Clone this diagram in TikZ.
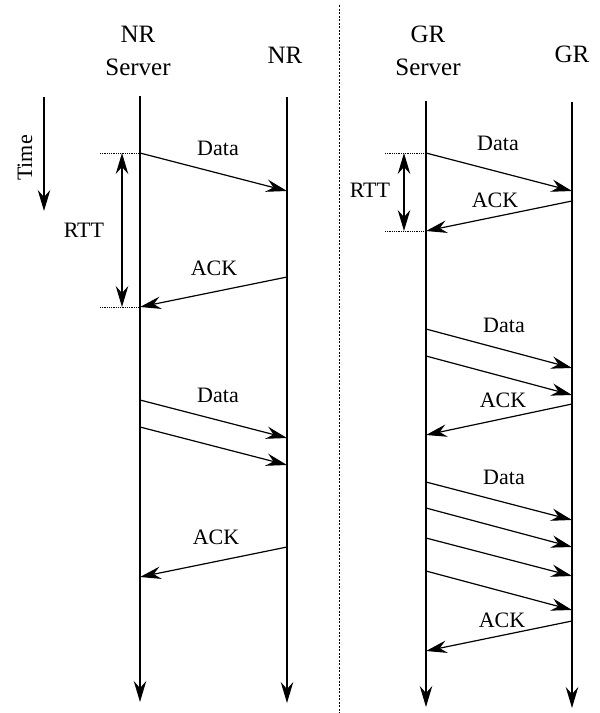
\documentclass[tikz,border=0pt]{standalone}
\usepackage{fontspec}
\setmainfont{Liberation Serif}
\usetikzlibrary{arrows.meta}

\tikzset{
  >={Stealth[length=21pt,width=12.5pt,inset=7pt]},
  life/.style={line width=1.4pt, ->},
  msg/.style={line width=1.2pt, ->},
  rtt/.style={line width=1.3pt, <->},
  tick/.style={densely dotted, line width=0.8pt},
  head/.style={font=\fontsize{25}{30}\selectfont, inner sep=0pt, anchor=base},
  lbl/.style={font=\fontsize{22}{26}\selectfont, inner sep=0pt},
}

\begin{document}
\begin{tikzpicture}[x=1pt, y=-1pt]
\useasboundingbox (0,0) rectangle (600,713);

% column headings
\node[head] (nrsA) at (138,42) {NR};
\node[head] (nrsB) at (138,75) {Server};
\node[head] (nrcA) at (285,63) {NR};
\node[head] (grsA) at (428,42) {GR};
\node[head] (grsB) at (428,75) {Server};
\node[head] (grcA) at (572,62) {GR};

% separator between the two scenarios
\draw[dashed, dash pattern=on 2pt off 1.5pt, line width=0.9pt] (339,5) -- (339,713);

% lifelines
\coordinate (nrsT) at (140,96);  \coordinate (nrsE) at (140,702);
\coordinate (nrcT) at (287,97);  \coordinate (nrcE) at (287,703);
\coordinate (grsT) at (426,101); \coordinate (grsE) at (426,707);
\coordinate (grcT) at (572,102); \coordinate (grcE) at (572,708);
\draw[life] (nrsT) -- (nrsE);
\draw[life] (nrcT) -- (nrcE);
\draw[life] (grsT) -- (grsE);
\draw[life] (grcT) -- (grcE);

% time axis
\coordinate (tT) at (44,97);
\coordinate (tE) at (44,211);
\draw[msg] (tT) -- (tE);
\node[lbl, rotate=90] (time) at (25,158) {Time};

% ---- NR exchange ----
\coordinate (n1s) at (140,153); \coordinate (n1e) at (287,191);
\coordinate (n2s) at (287,277); \coordinate (n2e) at (140,307);
\draw[msg] (n1s) -- (n1e);
\draw[msg] (n2s) -- (n2e);
\node[lbl] (nd1) at (218,148) {Data};
\node[lbl] (na1) at (214,268) {ACK};

% RTT marker
\coordinate (nr1) at (100,153); \coordinate (nr2) at (100,307);
\draw[tick] (nr1) -- (n1s);
\draw[tick] (nr2) -- (n2e);
\coordinate (nrA) at (122,153); \coordinate (nrB) at (122,307);
\draw[rtt] (nrA) -- (nrB);
\node[lbl] (nrtt) at (84,230) {RTT};

\coordinate (n3s) at (140,400); \coordinate (n3e) at (287,438);
\coordinate (n4s) at (140,427); \coordinate (n4e) at (287,465);
\coordinate (n5s) at (287,547); \coordinate (n5e) at (140,577);
\draw[msg] (n3s) -- (n3e);
\draw[msg] (n4s) -- (n4e);
\draw[msg] (n5s) -- (n5e);
\node[lbl] (nd2) at (218,395) {Data};
\node[lbl] (na2) at (216,537) {ACK};

% ---- GR exchange ----
\coordinate (g1s) at (426,153); \coordinate (g1e) at (572,191);
\coordinate (g2s) at (572,201); \coordinate (g2e) at (426,231);
\draw[msg] (g1s) -- (g1e);
\draw[msg] (g2s) -- (g2e);
\node[lbl] (gd1) at (498,143) {Data};
\node[lbl] (ga1) at (495,200) {ACK};

\coordinate (gr1) at (385,153); \coordinate (gr2) at (385,231);
\draw[tick] (gr1) -- (g1s);
\draw[tick] (gr2) -- (g2e);
\coordinate (grA) at (404,153); \coordinate (grB) at (404,231);
\draw[rtt] (grA) -- (grB);
\node[lbl] (grtt) at (370,190) {RTT};

\coordinate (g3s) at (426,329); \coordinate (g3e) at (572,368);
\coordinate (g4s) at (426,356); \coordinate (g4e) at (572,395);
\coordinate (g5s) at (572,404); \coordinate (g5e) at (426,435);
\draw[msg] (g3s) -- (g3e);
\draw[msg] (g4s) -- (g4e);
\draw[msg] (g5s) -- (g5e);
\node[lbl] (gd2) at (504,325) {Data};
\node[lbl] (ga2) at (503,400) {ACK};

\coordinate (g6s) at (426,482); \coordinate (g6e) at (572,520);
\coordinate (g7s) at (426,508); \coordinate (g7e) at (572,547);
\coordinate (g8s) at (426,538); \coordinate (g8e) at (572,576);
\coordinate (g9s) at (426,571); \coordinate (g9e) at (572,610);
\coordinate (g10s) at (572,621); \coordinate (g10e) at (426,651);
\draw[msg] (g6s) -- (g6e);
\draw[msg] (g7s) -- (g7e);
\draw[msg] (g8s) -- (g8e);
\draw[msg] (g9s) -- (g9e);
\draw[msg] (g10s) -- (g10e);
\node[lbl] (gd3) at (504,477) {Data};
\node[lbl] (ga3) at (502,620) {ACK};
\end{tikzpicture}
\end{document}
